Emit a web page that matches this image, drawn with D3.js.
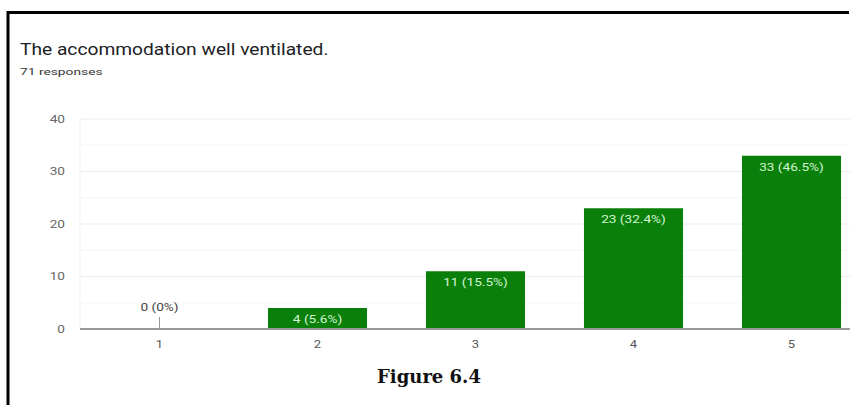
<!DOCTYPE html>
<html>
<head>
<meta charset="utf-8">
<script src="https://cdn.jsdelivr.net/npm/d3@7"></script>
<style>
  html, body { margin: 0; padding: 0; background: #fff; }
  svg { display: block; }
</style>
</head>
<body>
<svg id="chart" width="850" height="405"></svg>
<script>
// Survey answers: rating scale 1-5 and response counts
const categories = ["1", "2", "3", "4", "5"];
const counts = [0, 4, 11, 23, 33];
const percentLabels = ["0%", "5.6%", "15.5%", "32.4%", "46.5%"];
const yTicks = [0, 10, 20, 30, 40];
const minorTicks = [5, 15, 25, 35];
const titleText = "The accommodation well ventilated.";
const subtitleText = "71 responses";
const captionText = "Figure 6.4";

const svg = d3.select("#chart");
const W = 850, H = 405;
const SANS = "Roboto, 'Noto Sans', sans-serif";
const WIDE = 1.3; // horizontal stretch of the chart's sans-serif text

// Places a text at (x, y) with a horizontal stretch around its anchor
function wideText(parent, x, y, str, opts) {
  return parent.append("text")
    .attr("transform", `translate(${x},${y}) scale(${opts.sx || WIDE},1)`)
    .attr("text-anchor", opts.anchor || "start")
    .attr("font-family", SANS)
    .attr("font-size", opts.size)
    .attr("fill", opts.fill)
    .text(str);
}

// Frame around the figure (top and left edges)
svg.append("rect").attr("x", 0).attr("y", 0).attr("width", W).attr("height", H).attr("fill", "#fff");
svg.append("line").attr("x1", 8).attr("x2", 849).attr("y1", 12.5).attr("y2", 12.5)
  .attr("stroke", "#000").attr("stroke-width", 3);
svg.append("line").attr("x1", 8).attr("x2", 8).attr("y1", 11).attr("y2", 405)
  .attr("stroke", "#000").attr("stroke-width", 3);

// Header
wideText(svg, 20, 55, titleText, { size: 16, fill: "#202124", sx: 1.2 });
wideText(svg, 20, 75, subtitleText, { size: 9.5, fill: "#333", sx: 1.45 });

// Scales
const x = d3.scaleBand().domain(categories).range([80.5, 870.5]).paddingInner(0.373).paddingOuter(0.1865);
const y = d3.scaleLinear().domain([0, 40]).range([329, 119]);

const plot = svg.append("g");

// Gridlines
plot.selectAll("line.minor").data(minorTicks).join("line")
  .attr("class", "minor")
  .attr("x1", 80).attr("x2", W).attr("y1", d => y(d)).attr("y2", d => y(d))
  .attr("stroke", "#f6f6f6").attr("stroke-width", 1);
plot.selectAll("line.major").data(yTicks.filter(d => d > 0)).join("line")
  .attr("class", "major")
  .attr("x1", 80).attr("x2", W).attr("y1", d => y(d)).attr("y2", d => y(d))
  .attr("stroke", "#ececec").attr("stroke-width", 1);
plot.append("line").attr("x1", 80).attr("x2", 80).attr("y1", y(40)).attr("y2", y(0))
  .attr("stroke", "#f3f3f3").attr("stroke-width", 1);

// Y axis labels
const yAxis = d3.axisLeft(y).tickValues(yTicks).tickSize(0).tickPadding(0);
const gy = svg.append("g").attr("transform", "translate(65,0)").call(yAxis);
gy.select(".domain").remove();
gy.selectAll("text")
  .attr("x", null)
  .attr("transform", `scale(${WIDE},1)`)
  .attr("font-family", SANS).attr("font-size", 10.5).attr("fill", "#666");

// Bars
plot.selectAll("rect.bar").data(counts).join("rect")
  .attr("class", "bar")
  .attr("x", (d, i) => x(categories[i]))
  .attr("width", x.bandwidth())
  .attr("y", d => y(d))
  .attr("height", d => y(0) - y(d))
  .attr("fill", "#0a800a");

// Baseline
plot.append("line").attr("x1", 80).attr("x2", W).attr("y1", y(0)).attr("y2", y(0))
  .attr("stroke", "#9a9a9a").attr("stroke-width", 2);

// X axis labels
const xAxis = d3.axisBottom(x).tickSize(0).tickPadding(12);
const gx = svg.append("g").attr("transform", `translate(0,${y(0)})`).call(xAxis);
gx.select(".domain").remove();
gx.selectAll("text")
  .attr("transform", `scale(${WIDE},1)`)
  .attr("font-family", SANS).attr("font-size", 10).attr("fill", "#555");

// Value labels
counts.forEach((v, i) => {
  const cx = x(categories[i]) + x.bandwidth() / 2;
  const label = `${v} (${percentLabels[i]})`;
  if (v === 0) {
    plot.append("line").attr("x1", cx).attr("x2", cx).attr("y1", y(0) - 12).attr("y2", y(0))
      .attr("stroke", "#999").attr("stroke-width", 1);
    wideText(plot, cx, y(0) - 18, label, { size: 10.5, fill: "#444", anchor: "middle" });
  } else {
    wideText(plot, cx, y(v) + 15, label, { size: 10.5, fill: "#d2f5d2", anchor: "middle" });
  }
});

// Figure caption
svg.append("text").attr("x", 429).attr("y", 383)
  .attr("text-anchor", "middle")
  .attr("font-family", "'DejaVu Serif', 'Liberation Serif', serif")
  .attr("font-weight", "bold").attr("font-size", 18)
  .attr("fill", "#111").text(captionText);
</script>
</body>
</html>
